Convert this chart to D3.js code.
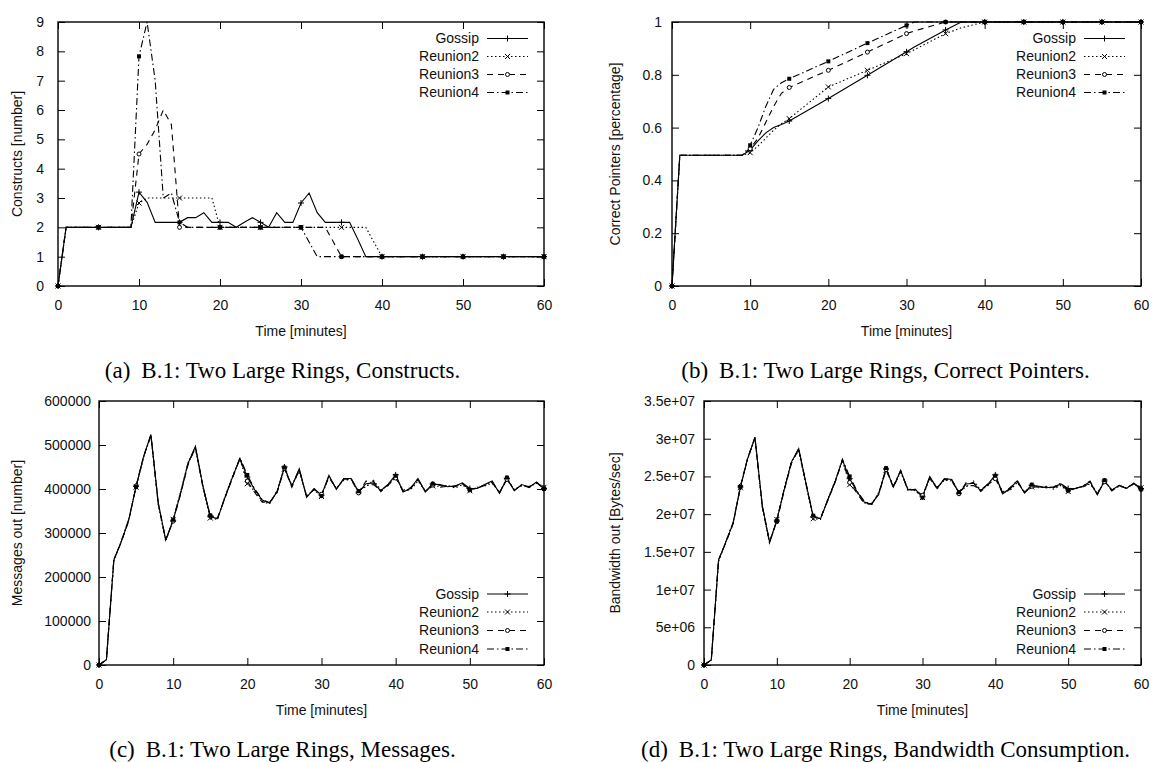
<!DOCTYPE html>
<html>
<head>
<meta charset="utf-8">
<script src="https://cdn.jsdelivr.net/npm/d3@7"></script>
<style>
  body { margin: 0; background: #fff; }
  svg { display: block; }
  .sans { font-family: 'Liberation Sans', Arial, Helvetica, sans-serif; font-size: 14px; fill: #111; }
  .caption { font-family: 'Liberation Serif', 'Times New Roman', serif; font-size: 23px; fill: #000; }
</style>
</head>
<body>
<svg id="fig" width="1153" height="762"></svg>
<script>
// series + styles
const seriesNames = ['Gossip', 'Reunion2', 'Reunion3', 'Reunion4'];
const dashes = [null, '1.5,2.5', '6,5', '7,3,1.5,3'];
const markerTypes = ['plus', 'cross', 'circle', 'square'];

// time axis (minutes)
const minutes = [0, 1, 2, 3, 4, 5, 6, 7, 8, 9, 10, 11, 12, 13, 14, 15, 16, 17, 18, 19,
  20, 21, 22, 23, 24, 25, 26, 27, 28, 29, 30, 31, 32, 33, 34, 35, 36, 37, 38, 39,
  40, 41, 42, 43, 44, 45, 46, 47, 48, 49, 50, 51, 52, 53, 54, 55, 56, 57, 58, 59, 60];
const xTicks = [0, 10, 20, 30, 40, 50, 60];

// (a) constructs
const constructsTicks = [0, 1, 2, 3, 4, 5, 6, 7, 8, 9];
const constructsGossip = [0, 2, 2, 2, 2, 2, 2, 2, 2, 2,
  3.2, 2.85, 2.17, 2.17, 2.17, 2.17, 2.33, 2.33, 2.5, 2.17,
  2.17, 2.17, 2, 2.17, 2.33, 2.17, 2, 2.5, 2.17, 2.17,
  2.83, 3.17, 2.5, 2.17, 2.17, 2.17, 2.17, 1.6, 1, 1,
  1, 1, 1, 1, 1, 1, 1, 1, 1, 1,
  1, 1, 1, 1, 1, 1, 1, 1, 1, 1, 1];
const constructsReunion2 = [0, 2, 2, 2, 2, 2, 2, 2, 2, 2,
  2.83, 3, 3, 3, 3, 3, 3, 3, 3, 3,
  2, 2, 2, 2, 2, 2, 2, 2, 2, 2,
  2, 2, 2, 2, 2, 2, 2, 2, 2, 1.5,
  1, 1, 1, 1, 1, 1, 1, 1, 1, 1,
  1, 1, 1, 1, 1, 1, 1, 1, 1, 1, 1];
const constructsReunion3 = [0, 2, 2, 2, 2, 2, 2, 2, 2, 2,
  4.5, 4.83, 5.33, 6, 5.5, 2, 2, 2, 2, 2,
  2, 2, 2, 2, 2, 2, 2, 2, 2, 2,
  2, 2, 2, 2, 1.5, 1, 1, 1, 1, 1,
  1, 1, 1, 1, 1, 1, 1, 1, 1, 1,
  1, 1, 1, 1, 1, 1, 1, 1, 1, 1, 1];
const constructsReunion4 = [0, 2, 2, 2, 2, 2, 2, 2, 2, 2,
  7.83, 9, 7, 3, 3.17, 2.17, 2, 2, 2, 2,
  2, 2, 2, 2, 2, 2, 2, 2, 2, 2,
  2, 1.5, 1, 1, 1, 1, 1, 1, 1, 1,
  1, 1, 1, 1, 1, 1, 1, 1, 1, 1,
  1, 1, 1, 1, 1, 1, 1, 1, 1, 1, 1];

// (b) correct pointers
const pointerTimes = [0, 1, 9, 10, 11, 12, 13, 14, 15, 20, 25, 30, 31, 35, 37, 40, 45, 50, 55, 60];
const pointerTicks = [0, 0.2, 0.4, 0.6, 0.8, 1];
const pointersGossip = [0, 0.495, 0.495, 0.515, 0.55, 0.58, 0.6, 0.612, 0.625, 0.71, 0.798, 0.887, 0.905, 0.97, 1, 1, 1, 1, 1, 1];
const pointersReunion2 = [0, 0.495, 0.495, 0.505, 0.53, 0.56, 0.59, 0.615, 0.634, 0.754, 0.817, 0.88, 0.895, 0.956, 0.978, 1, 1, 1, 1, 1];
const pointersReunion3 = [0, 0.495, 0.495, 0.52, 0.56, 0.62, 0.68, 0.73, 0.752, 0.817, 0.886, 0.956, 0.966, 1, 1, 1, 1, 1, 1, 1];
const pointersReunion4 = [0, 0.495, 0.495, 0.533, 0.6, 0.68, 0.745, 0.77, 0.785, 0.851, 0.92, 0.987, 1, 1, 1, 1, 1, 1, 1, 1];

// (c) messages, thousands
const messagesTicks = [0, 100, 200, 300, 400, 500, 600];
const messagesTickLabels = ['0', '100000', '200000', '300000', '400000', '500000', '600000'];
const messagesGossip = [0, 12, 238, 280, 329, 406, 473, 524, 368, 284,
  329, 390, 458, 497, 408, 337, 333, 382, 427, 470,
  427, 398, 375, 368, 393, 450, 406, 446, 381, 401,
  386, 431, 399, 424, 424, 393, 412, 414, 396, 411,
  432, 393, 401, 424, 393, 411, 410, 405, 407, 414,
  401, 401, 410, 418, 390, 424, 396, 410, 404, 416, 401];
const messagesReunion2 = [0, 12, 236, 282, 331, 404, 471, 522, 362, 281,
  331, 393, 460, 492, 404, 334, 331, 384, 429, 468,
  412, 395, 372, 366, 396, 445, 409, 440, 385, 398,
  383, 428, 402, 420, 421, 396, 405, 420, 398, 408,
  428, 398, 398, 418, 396, 407, 406, 408, 402, 410,
  396, 404, 407, 413, 393, 420, 399, 407, 406, 413, 404];
const messagesReunion3 = [0, 12, 240, 279, 327, 407, 474, 521, 365, 286,
  327, 388, 455, 494, 406, 339, 335, 380, 425, 469,
  418, 392, 370, 370, 391, 447, 404, 443, 383, 399,
  388, 426, 401, 422, 422, 391, 418, 418, 394, 409,
  425, 396, 403, 421, 395, 409, 404, 406, 405, 412,
  398, 403, 408, 415, 392, 422, 398, 409, 405, 414, 402];
const messagesReunion4 = [0, 12, 239, 281, 330, 405, 472, 523, 366, 283,
  330, 391, 457, 496, 407, 340, 334, 381, 426, 471,
  432, 400, 376, 369, 394, 449, 407, 445, 382, 400,
  384, 430, 400, 423, 423, 395, 408, 410, 397, 410,
  430, 394, 400, 423, 394, 412, 408, 407, 406, 413,
  398, 402, 409, 417, 391, 426, 397, 410, 403, 415, 400];

// (d) bandwidth, millions of bytes/sec
const bandwidthTicks = [0, 5, 10, 15, 20, 25, 30, 35];
const bandwidthTickLabels = ['0', '5e+06', '1e+07', '1.5e+07', '2e+07', '2.5e+07', '3e+07', '3.5e+07'];
const bandwidthGossip = [0, 0.66, 13.9, 16.3, 18.8, 23.6, 27.4, 30.2, 21.2, 16.3,
  19.2, 23.2, 26.9, 28.7, 24.1, 19.6, 19.4, 21.9, 24.3, 27.2,
  24.7, 23.0, 21.6, 21.3, 22.7, 26.0, 23.6, 25.8, 23.2, 23.3,
  22.3, 25.0, 23.4, 24.7, 24.6, 22.8, 24.0, 24.1, 23.1, 24.0,
  25.2, 22.7, 23.4, 24.4, 22.8, 23.8, 23.7, 23.5, 23.6, 24.0,
  23.4, 23.4, 23.7, 24.3, 22.6, 24.4, 23.2, 23.8, 23.4, 24.1, 23.4];
const bandwidthReunion2 = [0, 0.66, 13.7, 16.4, 18.9, 23.5, 27.3, 30.0, 20.9, 16.1,
  19.3, 23.4, 27.0, 28.4, 23.9, 19.4, 19.3, 22.0, 24.4, 27.1,
  23.9, 22.9, 21.5, 21.2, 22.9, 25.8, 23.8, 25.5, 23.4, 23.1,
  22.2, 24.8, 23.6, 24.5, 24.4, 23.0, 23.6, 24.4, 23.2, 23.8,
  24.9, 23.0, 23.1, 24.2, 23.0, 23.6, 23.5, 23.7, 23.3, 23.8,
  23.0, 23.5, 23.6, 24.0, 22.8, 24.3, 23.2, 23.7, 23.5, 24.0, 23.5];
const bandwidthReunion3 = [0, 0.66, 14.0, 16.2, 18.7, 23.7, 27.5, 30.1, 21.1, 16.4,
  19.0, 23.1, 26.7, 28.6, 24.0, 19.7, 19.5, 21.8, 24.2, 27.1,
  24.2, 22.8, 21.4, 21.4, 22.6, 25.9, 23.5, 25.7, 23.3, 23.2,
  22.5, 24.7, 23.5, 24.6, 24.5, 22.7, 24.2, 24.2, 23.0, 23.9,
  24.7, 22.9, 23.5, 24.3, 22.9, 23.7, 23.5, 23.6, 23.5, 23.9,
  23.1, 23.4, 23.6, 24.1, 22.7, 24.3, 23.1, 23.8, 23.5, 24.0, 23.3];
const bandwidthReunion4 = [0, 0.66, 13.8, 16.3, 18.9, 23.6, 27.4, 30.2, 21.0, 16.2,
  19.1, 23.3, 26.8, 28.7, 24.1, 19.8, 19.4, 21.9, 24.3, 27.3,
  25.0, 23.1, 21.7, 21.3, 22.8, 26.1, 23.7, 25.8, 23.1, 23.3,
  22.2, 25.0, 23.3, 24.7, 24.6, 22.9, 23.7, 23.8, 23.2, 24.0,
  25.1, 22.7, 23.3, 24.5, 22.8, 23.9, 23.6, 23.5, 23.6, 24.1,
  23.2, 23.4, 23.7, 24.4, 22.6, 24.5, 23.1, 23.8, 23.4, 24.1, 23.3];

const panels = [
  {
    box: { left: 58, right: 544, top: 22, bottom: 286 },
    yDomain: [0, 9], yTicks: constructsTicks, yLabels: constructsTicks.map(String), gap: 14,
    yTitle: 'Constructs [number]', titleX: 17, legendTop: true, times: minutes,
    series: [constructsGossip, constructsReunion2, constructsReunion3, constructsReunion4],
    tag: '(a)', caption: 'B.1: Two Large Rings, Constructs.', capX: 282.5,
  },
  {
    box: { left: 672, right: 1141, top: 22, bottom: 286 },
    yDomain: [0, 1], yTicks: pointerTicks, yLabels: pointerTicks.map(String), gap: 10,
    yTitle: 'Correct Pointers [percentage]', titleX: 615, legendTop: true, times: pointerTimes,
    series: [pointersGossip, pointersReunion2, pointersReunion3, pointersReunion4],
    tag: '(b)', caption: 'B.1: Two Large Rings, Correct Pointers.', capX: 885.5,
  },
  {
    box: { left: 99, right: 544, top: 401, bottom: 665 },
    yDomain: [0, 600], yTicks: messagesTicks, yLabels: messagesTickLabels, gap: 8,
    yTitle: 'Messages out [number]', titleX: 17, legendTop: false, times: minutes,
    series: [messagesGossip, messagesReunion2, messagesReunion3, messagesReunion4],
    tag: '(c)', caption: 'B.1: Two Large Rings, Messages.', capX: 282.5,
  },
  {
    box: { left: 704, right: 1141, top: 401, bottom: 665 },
    yDomain: [0, 35], yTicks: bandwidthTicks, yLabels: bandwidthTickLabels, gap: 9,
    yTitle: 'Bandwidth out [Bytes/sec]', titleX: 615, legendTop: false, times: minutes,
    series: [bandwidthGossip, bandwidthReunion2, bandwidthReunion3, bandwidthReunion4],
    tag: '(d)', caption: 'B.1: Two Large Rings, Bandwidth Consumption.', capX: 885.5,
  },
];

const $svg = d3.select('#fig');

// gnuplot style point markers
function drawMarker($g, type, cx, cy) {
  if (type === 'plus') {
    $g.append('path').attr('d', `M${cx - 3},${cy}H${cx + 3}M${cx},${cy - 3}V${cy + 3}`)
      .attr('stroke', '#000').attr('stroke-width', 1);
  } else if (type === 'cross') {
    $g.append('path')
      .attr('d', `M${cx - 2.5},${cy - 2.5}L${cx + 2.5},${cy + 2.5}M${cx - 2.5},${cy + 2.5}L${cx + 2.5},${cy - 2.5}`)
      .attr('stroke', '#000').attr('stroke-width', 1);
  } else if (type === 'circle') {
    $g.append('circle').attr('cx', cx).attr('cy', cy).attr('r', 2)
      .attr('fill', '#fff').attr('stroke', '#000').attr('stroke-width', 1);
  } else {
    $g.append('rect').attr('x', cx - 2).attr('y', cy - 2).attr('width', 4).attr('height', 4)
      .attr('fill', '#000');
  }
}

function renderPanel(p) {
  const { left, right, top, bottom } = p.box;
  const $g = $svg.append('g');

  const scaleX = d3.scaleLinear().domain([0, 60]).range([left, right]);
  const scaleY = d3.scaleLinear().domain(p.yDomain).range([bottom, top]);

  // axes, ticks pointing inward on all four sides
  const $axes = [
    $g.append('g').attr('transform', `translate(0,${bottom})`)
      .call(d3.axisBottom(scaleX).tickValues(xTicks).tickSize(-7).tickSizeOuter(0).tickPadding(14)),
    $g.append('g').attr('transform', `translate(0,${top})`)
      .call(d3.axisTop(scaleX).tickValues(xTicks).tickSize(-7).tickSizeOuter(0).tickFormat('')),
    $g.append('g').attr('transform', `translate(${left},0)`)
      .call(d3.axisLeft(scaleY).tickValues(p.yTicks).tickSize(-7).tickSizeOuter(0).tickPadding(p.gap)
        .tickFormat((d, i) => p.yLabels[i])),
    $g.append('g').attr('transform', `translate(${right},0)`)
      .call(d3.axisRight(scaleY).tickValues(p.yTicks).tickSize(-7).tickSizeOuter(0).tickFormat('')),
  ];
  $axes.forEach(($a) => {
    $a.select('.domain').remove();
    $a.selectAll('.tick line').attr('stroke', '#000').attr('stroke-width', 1);
    $a.selectAll('.tick text').attr('class', 'sans').attr('font-family', null).attr('font-size', null);
  });

  // data lines
  const line = d3.line().x((d, i) => scaleX(p.times[i])).y(d => scaleY(d));
  p.series.forEach((values, s) => {
    $g.append('path').datum(values)
      .attr('d', line)
      .attr('fill', 'none')
      .attr('stroke', '#000')
      .attr('stroke-width', 1.1)
      .attr('stroke-dasharray', dashes[s]);
  });
  p.series.forEach((values, s) => {
    values.forEach((v, i) => {
      if (p.times[i] % 5 === 0) drawMarker($g, markerTypes[s], scaleX(p.times[i]), scaleY(v));
    });
  });

  // frame
  $g.append('rect')
    .attr('x', left).attr('y', top)
    .attr('width', right - left).attr('height', bottom - top)
    .attr('fill', 'none').attr('stroke', '#000').attr('stroke-width', 1.4);

  // legend
  const rows = p.legendTop
    ? [top + 16.5, top + 34.5, top + 52.5, top + 70.5]
    : [bottom - 71, bottom - 53, bottom - 34.5, bottom - 16];
  seriesNames.forEach((name, s) => {
    const ly = rows[s];
    $g.append('text').attr('class', 'sans')
      .attr('x', right - 65).attr('y', ly).attr('dy', '0.35em')
      .attr('text-anchor', 'end').text(name);
    $g.append('line')
      .attr('x1', right - 57).attr('x2', right - 16)
      .attr('y1', ly).attr('y2', ly)
      .attr('stroke', '#000').attr('stroke-width', 1.1)
      .attr('stroke-dasharray', dashes[s]);
    drawMarker($g, markerTypes[s], right - 36.5, ly);
  });

  // titles
  $g.append('text').attr('class', 'sans')
    .attr('transform', `translate(${p.titleX},${(top + bottom) / 2}) rotate(-90)`)
    .attr('dy', '0.35em').attr('text-anchor', 'middle').text(p.yTitle);
  $g.append('text').attr('class', 'sans')
    .attr('x', (left + right) / 2).attr('y', bottom + 50)
    .attr('text-anchor', 'middle').text('Time [minutes]');

  const $cap = $g.append('text').attr('class', 'caption')
    .attr('x', p.capX).attr('y', bottom + 92).attr('text-anchor', 'middle');
  $cap.append('tspan').text(p.tag);
  $cap.append('tspan').attr('dx', 11).text(p.caption);
}

panels.forEach(renderPanel);
</script>
</body>
</html>
